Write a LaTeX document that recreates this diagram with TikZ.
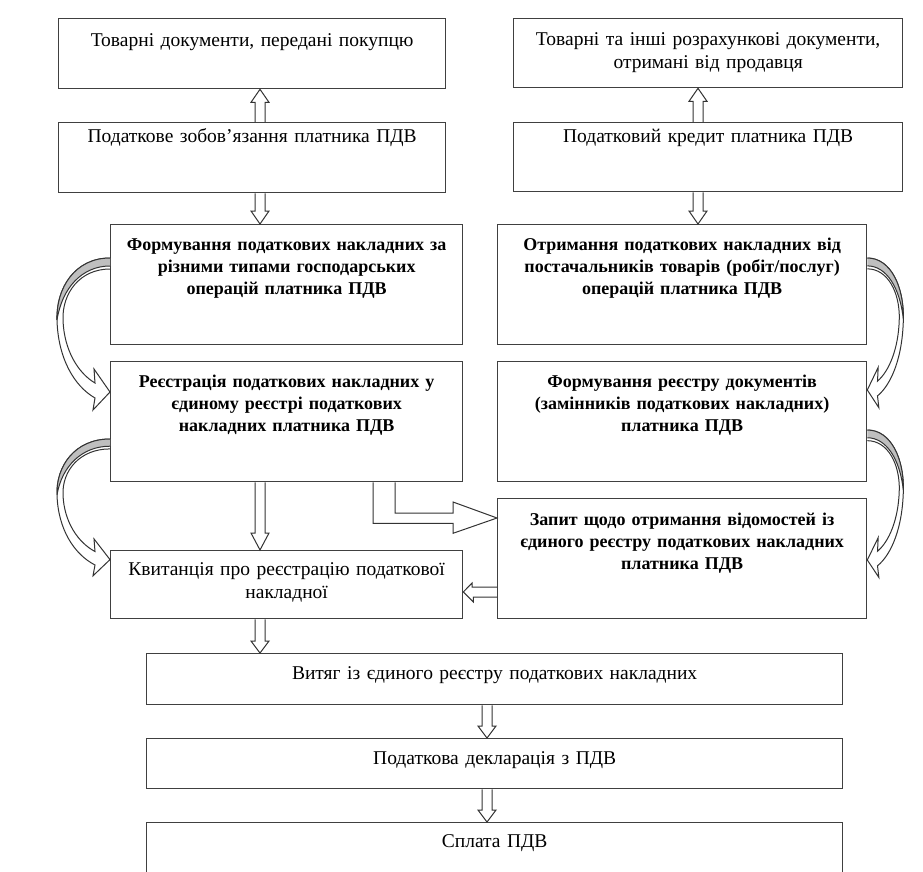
\documentclass[tikz,border=0pt]{standalone}
\usepackage{fontspec}
\setmainfont{Liberation Serif}
\usetikzlibrary{calc}

% hollow block arrow: #1 x, #2 from, #3 to, #4 head offset (-13 down, 13 up)
\newcommand{\vblock}[4]{%
  \draw[blockarrow] (#1-5,0 |- #2) -- ($(#1-5,0 |- #3)+(0,#4)$) -- ($(#1-9,0 |- #3)+(0,#4)$)
    -- (#1,0 |- #3) -- ($(#1+9,0 |- #3)+(0,#4)$) -- ($(#1+5,0 |- #3)+(0,#4)$) -- (#1+5,0 |- #2);}

% curved ribbon arrow: #1 start, #2 xscale, #3 yscale
\newcommand{\curvarrow}[3]{%
  \begin{scope}[shift={#1}, xscale=#2, yscale=#3]
    \draw[blockarrow] (0,0) .. controls (-35,0) and (-54,30) .. (-53,62) .. controls (-52,100) and (-36,128) .. (-15,140)
      -- (-17,152) -- (0,134) -- (-16,111) -- (-15,125)
      .. controls (-32,115) and (-46,92) .. (-47,62) .. controls (-48,35) and (-30,11) .. (0,11);
    \draw[blockarrow, fill=black!25] (0,0) .. controls (-35,0) and (-54,30) .. (-53,62) .. controls (-48,30) and (-28,8) .. (0,8);
  \end{scope}}

\begin{document}
\begin{tikzpicture}[x=1pt,y=-1pt]
    \tikzstyle{box}=[draw=black!75,line width=1.3pt,anchor=north west,inner sep=0pt,align=center,text height=27pt,font=\fontsize{19.5}{22.5}\selectfont]
    \tikzstyle{boxb}=[box,font=\fontsize{18}{22}\selectfont\bfseries]
    \tikzstyle{blockarrow}=[draw=black!80,line width=1pt,line join=miter]
    \path[use as bounding box,clip] (0,0) rectangle (923,871);

    \node (tovdoc)[box,text height=28pt,text width=387,text depth=42]  at (58,18)   {Товарні документи, передані покупцю};
    \node (zobov)[box,text height=20pt,text width=387,text depth=50]   at (58,122)  {Податкове зобов’язання платника ПДВ};
    \node (formpn)[boxb,text height=26pt,text width=352,text depth=94] at (110,224) {Формування податкових накладних за\\ різними типами господарських\\ операцій платника ПДВ};
    \node (reestr)[boxb,text height=26pt,text width=352,text depth=94] at (110,361) {Реєстрація податкових накладних у\\ єдиному реєстрі податкових\\ накладних платника ПДВ};
    \node (kvyt)[box,text height=25pt,text width=352,text depth=43]    at (110,550) {Квитанція про реєстрацію податкової\\ накладної};
    \node (tovinshi)[box,text width=389,text depth=42]                 at (513,18)  {Товарні та інші розрахункові документи,\\ отримані від продавця};
    \node (kredyt)[box,text height=20pt,text width=389,text depth=49]  at (513,122) {Податковий кредит платника ПДВ};
    \node (otrym)[boxb,text height=26pt,text width=369,text depth=94]  at (497,224) {Отримання податкових накладних від\\ постачальників товарів (робіт/послуг)\\ операцій платника ПДВ};
    \node (formreestr)[boxb,text height=26pt,text width=369,text depth=94] at (497,361) {Формування реєстру документів\\ (замінників податкових накладних)\\ платника ПДВ};
    \node (zapyt)[boxb,text width=369,text depth=93]                   at (497,498) {Запит щодо отримання відомостей із\\ єдиного реєстру податкових накладних\\ платника ПДВ};
    \node (vytyah)[box,text height=26pt,text width=696,text depth=25]  at (146,653) {Витяг із єдиного реєстру податкових накладних};
    \node (deklar)[box,text height=26pt,text width=696,text depth=24]  at (146,738) {Податкова декларація з ПДВ};
    \node (splata)[box,text height=25pt,text width=696,text depth=45]  at (146,822) {Сплата ПДВ};

    \vblock{260}{zobov.north}{tovdoc.south}{13}
    \vblock{260}{zobov.south}{formpn.north}{-13}
    \vblock{260}{reestr.south}{kvyt.north}{-17}
    \vblock{260}{kvyt.south}{vytyah.north}{-12}
    \vblock{698}{kredyt.north}{tovinshi.south}{13}
    \vblock{698}{kredyt.south}{otrym.north}{-13}
    \vblock{487}{vytyah.south}{deklar.north}{-12}
    \vblock{487}{deklar.south}{splata.north}{-12}

    \draw[blockarrow] ($(reestr.south west)+(263,0)$) -- ++(0,41) -- ++(80,0) -- ++(0,10)
      -- ($(zapyt.north west)+(0,20)$) -- ++(-44,-16) -- ++(0,11) -- ++(-58,0) -- ($(reestr.south west)+(285,0)$);
    \draw[blockarrow] ($(zapyt.north west)+(0,89)$) -- ++(-25,0) -- ++(0,-4) -- ($(kvyt.north east)+(0,42)$)
      -- ++(10,10) -- ++(0,-5) -- ($(zapyt.north west)+(0,99)$);

    \curvarrow{($(formpn.north west)+(0,34)$)}{1}{1}
    \curvarrow{($(reestr.north west)+(0,78)$)}{1}{0.9}
    \curvarrow{($(otrym.north east)+(0,34)$)}{-0.68}{0.985}
    \curvarrow{($(formreestr.north east)+(0,69)$)}{-0.68}{0.97}
\end{tikzpicture}
\end{document}
